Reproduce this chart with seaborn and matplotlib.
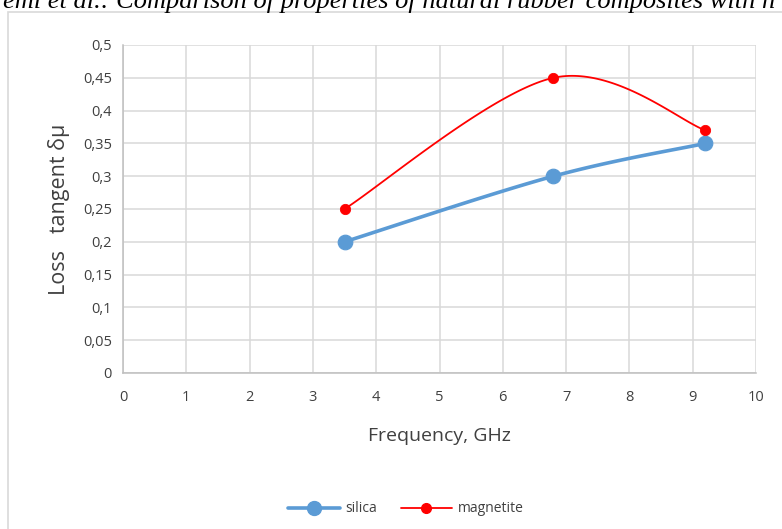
import numpy as np
import pandas as pd
import matplotlib
matplotlib.use("Agg")
import matplotlib.pyplot as plt
import seaborn as sns
from matplotlib.patches import Rectangle
from matplotlib.lines import Line2D

# ---- data ----
frequency = [3.5, 6.8, 9.2]
silica = [0.20, 0.30, 0.35]
magnetite = [0.25, 0.45, 0.37]
x_ticks = [0, 1, 2, 3, 4, 5, 6, 7, 8, 9, 10]
y_ticks = [0, 0.05, 0.1, 0.15, 0.2, 0.25, 0.3, 0.35, 0.4, 0.45, 0.5]
y_tick_labels = ["0", "0,05", "0,1", "0,15", "0,2", "0,25", "0,3", "0,35", "0,4", "0,45", "0,5"]
title_text = "emi et al.: Comparison of properties of natural rubber composites with n"

W, H = 782, 529
sns.set_style("white")
plt.rcParams['font.family'] = ['Open Sans', 'DejaVu Sans']

fig = plt.figure(figsize=(W / 100, H / 100), dpi=100)
ax = fig.add_axes([123 / W, 1 - 373 / H, (756 - 123) / W, (373 - 45) / H])

xmin, xmax, ymin, ymax = 0, 10, 0, 0.5
sx = (756 - 123) / (xmax - xmin)
sy = (373 - 45) / (ymax - ymin)


def smooth(xs, ys, n=60):
    # Excel-like smoothed line (Bezier with Catmull-Rom control points), in pixel space
    P = np.column_stack([np.array(xs) * sx, np.array(ys) * sy])
    out = []
    m = len(P)
    for i in range(m - 1):
        p0 = P[i - 1] if i > 0 else P[i]
        p1, p2 = P[i], P[i + 1]
        p3 = P[i + 2] if i + 2 < m else P[i + 1]
        c1 = p1 + (p2 - p0) / 6
        c2 = p2 - (p3 - p1) / 6
        t = np.linspace(0, 1, n)[:, None]
        seg = ((1 - t) ** 3) * p1 + 3 * ((1 - t) ** 2) * t * c1 + 3 * (1 - t) * t ** 2 * c2 + t ** 3 * p2
        out.append(seg if i == 0 else seg[1:])
    S = np.vstack(out)
    return S[:, 0] / sx, S[:, 1] / sy


blue = "#5b9bd5"
red = "#ff0000"

sxs, sys_ = smooth(frequency, silica)
mxs, mys = smooth(frequency, magnetite)
df_s = pd.DataFrame({"x": sxs, "y": sys_})
df_m = pd.DataFrame({"x": mxs, "y": mys})
sns.lineplot(data=df_s, x="x", y="y", ax=ax, color=blue, lw=2.6, sort=False, zorder=3)
sns.lineplot(data=df_m, x="x", y="y", ax=ax, color=red, lw=1.3, sort=False, zorder=4)
pts = pd.DataFrame({"x": frequency, "silica": silica, "magnetite": magnetite})
sns.scatterplot(data=pts, x="x", y="silica", ax=ax, color=blue, s=110, edgecolor=blue, zorder=5)
sns.scatterplot(data=pts, x="x", y="magnetite", ax=ax, color=red, s=55, edgecolor=red, zorder=6)

ax.set_xlim(xmin, xmax)
ax.set_ylim(ymin, ymax)
ax.set_xticks(x_ticks)
ax.set_xticklabels([str(v) for v in x_ticks])
ax.set_yticks(y_ticks)
ax.set_yticklabels(y_tick_labels)
ax.grid(True, color="#d9d9d9", lw=1.1)
ax.set_axisbelow(True)
for s in ["top", "right"]:
    ax.spines[s].set_visible(False)
for s in ["left", "bottom"]:
    ax.spines[s].set_color("#bfbfbf")
    ax.spines[s].set_linewidth(1.1)
ax.tick_params(axis="both", length=0, labelsize=10.5, colors="#404040", labelcolor="#404040")
ax.tick_params(axis="x", pad=12)
ax.tick_params(axis="y", pad=8)
ax.set_xlabel("Frequency, GHz", fontsize=14, color="#404040", labelpad=16)
ax.set_ylabel("Loss   tangent δμ", fontsize=15.5, color="#404040", labelpad=9)

# legend
handles = [Line2D([], [], color=blue, lw=2.6, marker="o", ms=10),
           Line2D([], [], color=red, lw=1.3, marker="o", ms=7)]
fig.legend(handles, ["silica", "magnetite"], loc="center", bbox_to_anchor=(406 / W, 1 - 509 / H),
           ncol=2, frameon=False, fontsize=10, handlelength=3.7, handletextpad=0.4,
           columnspacing=1.7, labelcolor="#404040")

# outer frame and clipped caption
fig.patches.append(Rectangle((8 / W, -0.1), 1.2, 1 - 12 / H + 0.1, transform=fig.transFigure,
                             fill=False, edgecolor="#d9d9d9", lw=1.2))
fig.text(3 / W, 1 - 8 / H, title_text, family=["Liberation Serif"], style="italic",
         fontsize=19, color="black", ha="left", va="baseline")

fig.savefig("out.png", dpi=100)
